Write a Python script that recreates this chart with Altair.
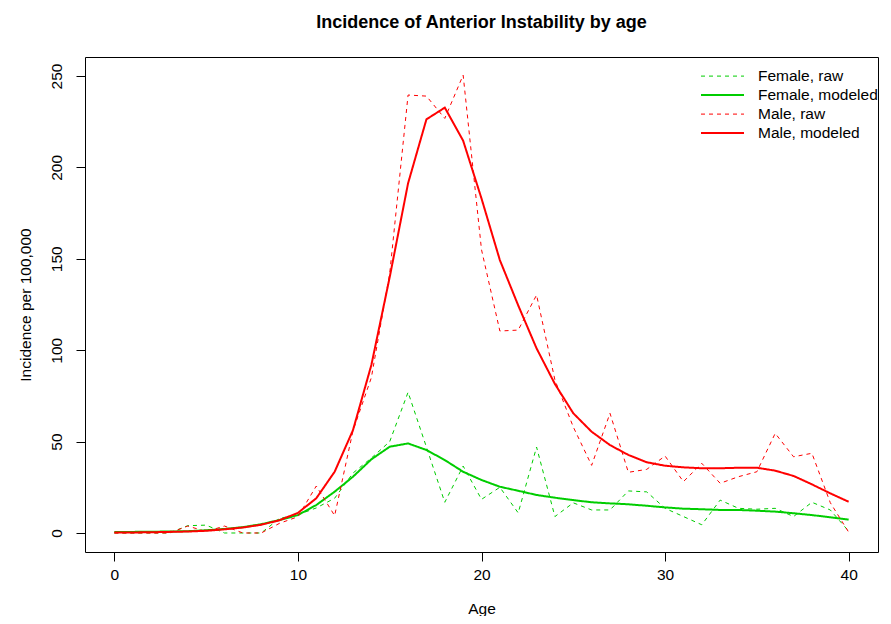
import altair as alt
import pandas as pd

ages = list(range(41))
female_raw = [0, 0, 0, 0, 4.0, 4.3, 0, 0, 0, 8.0, 10.0, 13.7, 19.0, 32.8, 41.0, 50.0, 77.0, 47.0,
              16.8, 36.6, 18.4, 25.0, 11.0, 47.0, 9.0, 16.5, 12.6, 12.6, 23.0, 22.5, 13.5, 9.0,
              4.5, 18.0, 13.5, 13.0, 13.5, 9.0, 16.8, 12.6, 1.0]
female_mod = [0.5, 0.6, 0.7, 0.8, 1.0, 1.5, 2.2, 3.2, 4.8, 7.1, 9.8, 15.3, 22.6, 30.8, 40.3, 47.2,
              49.0, 45.4, 39.9, 33.5, 29.0, 25.3, 23.1, 20.8, 19.3, 18.0, 16.8, 16.2, 15.7, 14.9,
              14.0, 13.3, 13.0, 12.6, 12.6, 12.2, 11.7, 10.8, 9.8, 8.6, 7.3]
male_raw = [0, 0, 0, 0, 3.8, 0.8, 3.8, 0, 0, 5.3, 8.9, 25.7, 9.5, 56.0, 85.0, 142.0, 239.6, 239.0,
            226.8, 250.5, 155.0, 110.5, 111.0, 130.2, 83.7, 58.0, 37.0, 65.5, 33.2, 34.8, 42.1,
            28.1, 38.1, 27.2, 30.8, 33.5, 54.5, 41.7, 43.6, 16.6, 0.5]
male_mod = [0.2, 0.3, 0.4, 0.6, 0.8, 1.2, 2.0, 3.0, 4.5, 7.0, 11.0, 19.0, 33.5, 56.3, 91.9, 140.0,
            191.3, 226.3, 232.7, 214.6, 183.0, 149.3, 124.5, 101.0, 81.5, 65.5, 55.4, 48.1, 42.7,
            38.7, 36.8, 35.9, 35.4, 35.4, 35.7, 35.7, 34.1, 31.2, 26.6, 21.7, 17.1]

series_names = ["Female, raw", "Female, modeled", "Male, raw", "Male, modeled"]
series_values = [female_raw, female_mod, male_raw, male_mod]
colors = ["#00CD00", "#00CD00", "#FF0000", "#FF0000"]
dashes = [[4, 4], [1, 0], [4, 4], [1, 0]]
widths = [1, 2, 1, 2]

rows = []
for name, vals in zip(series_names, series_values):
    for a, v in zip(ages, vals):
        rows.append({"age": a, "value": v, "series": name})
df = pd.DataFrame(rows)

FONT = "Liberation Sans"

x = alt.X("age:Q", scale=alt.Scale(domain=[-1.6, 41.6], nice=False, zero=False),
          axis=alt.Axis(values=[0, 10, 20, 30, 40], title="Age", titleY=61,
                        titleBaseline="alphabetic", labelPadding=6))
y = alt.Y("value:Q", scale=alt.Scale(domain=[-10.4, 260.4], nice=False, zero=False),
          axis=alt.Axis(values=[0, 50, 100, 150, 200, 250], title="Incidence per 100,000",
                        labelAngle=270, labelAlign="center", labelBaseline="bottom",
                        labelPadding=12, titleX=-52, titleY=247.5, titleAngle=270,
                        titleBaseline="bottom"))

color = alt.Color("series:N", scale=alt.Scale(domain=series_names, range=colors),
                  legend=alt.Legend(title=None, orient="none", legendX=615, legendY=10))
dash = alt.StrokeDash("series:N", scale=alt.Scale(domain=series_names, range=dashes))
sw = alt.StrokeWidth("series:N", scale=alt.Scale(type="ordinal", domain=series_names, range=widths))

layers = []
for name in series_names:
    layers.append(
        alt.Chart(df).transform_filter(alt.datum.series == name)
        .mark_line(clip=True)
        .encode(x=x, y=y, color=color, strokeDash=dash, strokeWidth=sw)
    )

chart = alt.layer(*layers).properties(
    width=793, height=495,
    autosize=alt.AutoSizeParams(type="none"),
    padding={"left": 77, "top": 49, "right": 5, "bottom": 64},
    title=alt.TitleParams("Incidence of Anterior Instability by age", font=FONT, fontSize=18,
                          fontWeight="bold", anchor="middle", offset=11, baseline="alphabetic",
                          color="black"),
).configure_view(stroke="black", strokeWidth=1).configure_axis(
    domain=False, grid=False, tickColor="black", tickSize=9, labelFont=FONT, labelFontSize=15.5,
    labelColor="black", titleFont=FONT, titleFontSize=15.5, titleFontWeight="normal",
    titleColor="black",
).configure_legend(
    symbolType="stroke", symbolSize=1849, labelFont=FONT, labelFontSize=15.5, labelColor="black",
    labelOffset=13, padding=0, rowPadding=0, clipHeight=18.2, symbolStrokeColor="black",
)

chart.save("out.html", embed_options={"renderer": "svg", "actions": False})
